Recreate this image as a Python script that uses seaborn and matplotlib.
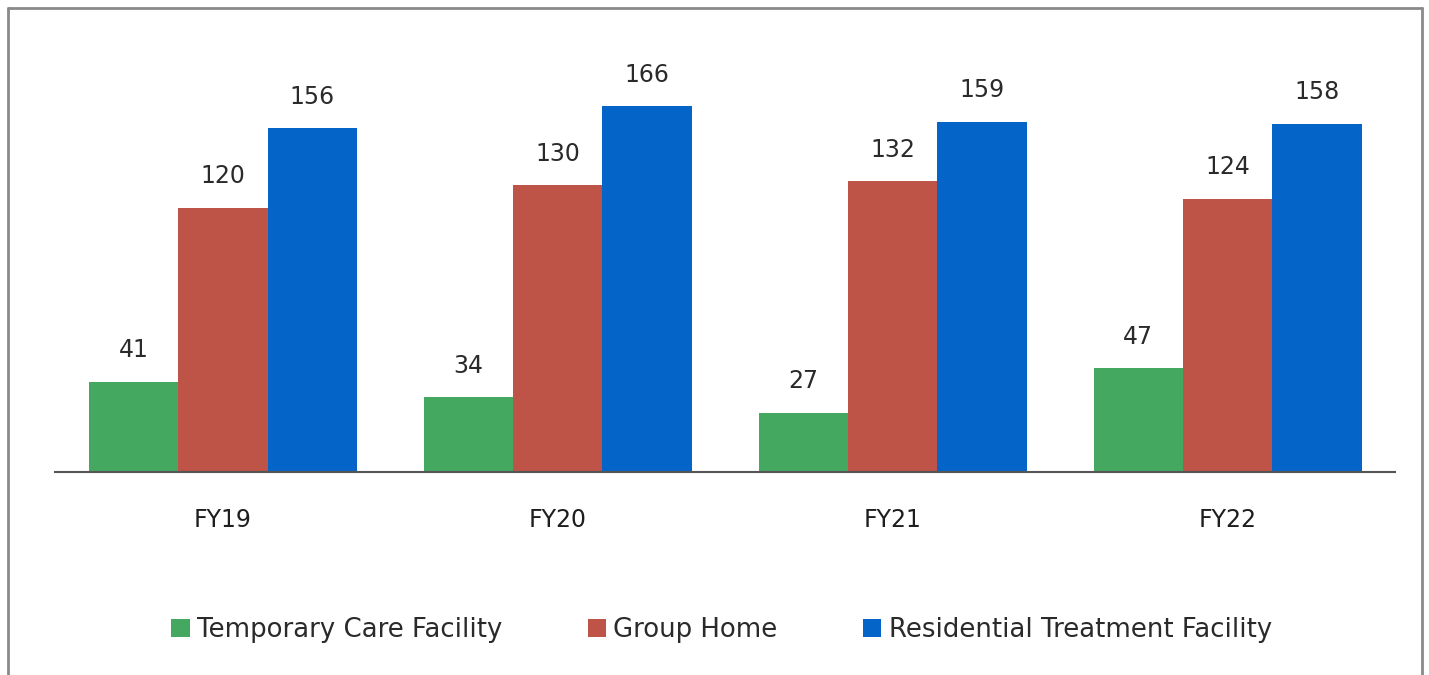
import pandas as pd
import seaborn as sns
import matplotlib.pyplot as plt
from matplotlib.patches import Patch
from matplotlib.lines import Line2D

years = ["FY19", "FY20", "FY21", "FY22"]
series = ["Temporary Care Facility", "Group Home", "Residential Treatment Facility"]
temporary_care = [41, 34, 27, 47]
group_home = [120, 130, 132, 124]
residential = [156, 166, 159, 158]

colors = {"Temporary Care Facility": "#45A860",
          "Group Home": "#BE5348",
          "Residential Treatment Facility": "#0564C8"}

# long format table for seaborn
rows = []
for name, vals in zip(series, [temporary_care, group_home, residential]):
    for yr, v in zip(years, vals):
        rows.append({"year": yr, "facility": name, "count": v})
df = pd.DataFrame(rows)

sns.set_style("white")
plt.rcParams['font.family'] = ['DejaVu Sans']

fig = plt.figure(figsize=(14.29, 6.75), dpi=100)
ax = fig.add_axes([0.0388, 0.3007, 0.9374, 0.64])

sns.barplot(data=df, x="year", y="count", hue="facility",
            order=years, hue_order=series, palette=colors,
            width=0.8, gap=0, errorbar=None, saturation=1,
            linewidth=0, ax=ax)

for cont in ax.containers:
    ax.bar_label(cont, padding=14, fontsize=17, color="#2a2a2a")

ax.set_ylim(0, 196)
ax.set_xlim(-0.5, 3.5)
ax.set_xlabel("")
ax.set_ylabel("")
ax.set_yticks([])
ax.tick_params(axis="x", length=0, pad=26, labelsize=17, labelcolor="#1e1e1e")
for s in ["top", "right", "left"]:
    ax.spines[s].set_visible(False)
ax.spines["bottom"].set_color("#555555")
ax.spines["bottom"].set_linewidth(1.5)

ax.get_legend().remove()
handles = [Patch(facecolor=colors[s], edgecolor="none") for s in series]
fig.legend(handles, series, loc="center", bbox_to_anchor=(0.505, 0.067),
           ncol=3, frameon=False, fontsize=18.7, handlelength=0.7,
           handleheight=0.7, handletextpad=0.28, columnspacing=3.3,
           labelcolor="#2a2a2a")

# gray frame around the chart (no bottom edge)
W, H = 1429, 675
frame_c = "#8a8a8a"
fig.add_artist(Line2D([8 / W, 1422 / W], [1 - 8 / H, 1 - 8 / H], color=frame_c, lw=2))
fig.add_artist(Line2D([8 / W, 8 / W], [0, 1 - 8 / H], color=frame_c, lw=2))
fig.add_artist(Line2D([1422 / W, 1422 / W], [0, 1 - 8 / H], color=frame_c, lw=2))

plt.savefig("out.png", dpi=100)
